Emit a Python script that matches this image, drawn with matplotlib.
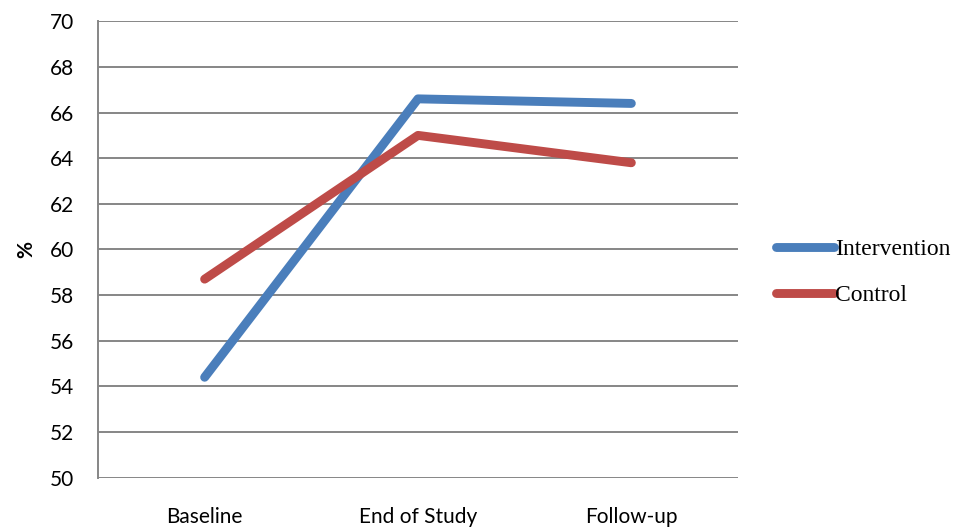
import matplotlib.pyplot as plt

categories = ["Baseline", "End of Study", "Follow-up"]
intervention = [54.4, 66.6, 66.4]
control = [58.7, 65.0, 63.8]
yticks = list(range(50, 71, 2))

fig = plt.figure(figsize=(9.66, 5.28), dpi=100)
ax = fig.add_axes([0.1014, 0.0953, 0.6626, 0.8644])

x = range(len(categories))
ax.plot(x, intervention, color="#4A7EBB", lw=6.4, solid_capstyle="round",
        solid_joinstyle="round", label="Intervention", zorder=3)
ax.plot(x, control, color="#BE4B48", lw=6.4, solid_capstyle="round",
        solid_joinstyle="round", label="Control", zorder=3)

ax.set_xlim(-0.5, 2.5)
ax.set_ylim(50, 70)
ax.set_yticks(yticks)
ax.set_xticks(list(x))
ax.set_xticklabels(categories)
ax.grid(axis="y", color="#868686", lw=1.4)
ax.set_axisbelow(True)
for side in ["top", "right", "bottom"]:
    ax.spines[side].set_visible(False)
ax.spines["left"].set_color("#868686")
ax.spines["left"].set_linewidth(1.4)
ax.tick_params(length=0, labelsize=15)
ax.tick_params(axis="y", pad=17)
ax.tick_params(axis="x", pad=21)
for lab in ax.get_xticklabels() + ax.get_yticklabels():
    lab.set_family("Lato")

ax.set_ylabel("%", fontsize=15, fontweight="bold", family="Lato", labelpad=10)

fig.legend(loc="center left", bbox_to_anchor=(0.781, 0.484), frameon=False,
           prop={"family": "Liberation Serif", "size": 17},
           handlelength=2.45, handletextpad=0.05, labelspacing=1.05)

plt.savefig("out.png", dpi=100)
